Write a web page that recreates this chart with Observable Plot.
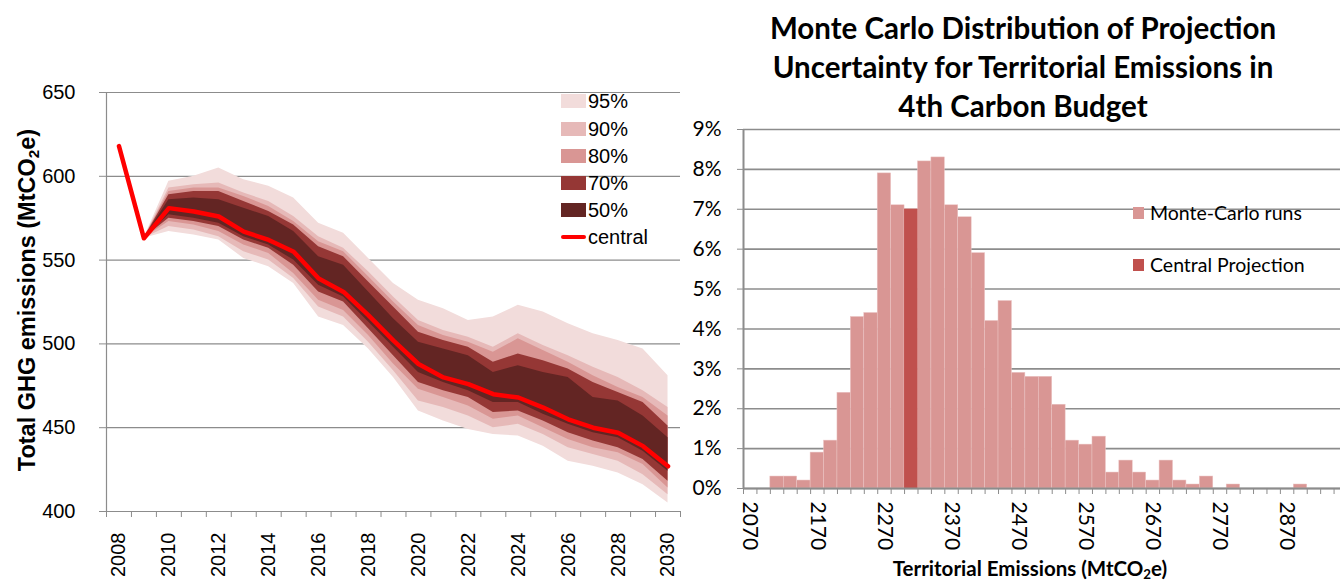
<!DOCTYPE html>
<html><head><meta charset="utf-8">
<script src="https://cdn.jsdelivr.net/npm/d3@7"></script>
<script src="https://cdn.jsdelivr.net/npm/@observablehq/plot@0.6"></script>
<style>
html,body{margin:0;padding:0;background:#fff;width:1340px;height:581px;overflow:hidden;}
#wrap{position:relative;width:1340px;height:581px;overflow:hidden;}
.abs{position:absolute;}
#leftPlot{left:0;top:0;}
#rightPlot{left:690px;top:0;}
.ltxt{font-family:"Liberation Sans",Arial,sans-serif;font-size:20px;color:#000;}
.rtxt{font-family:Lato,"Open Sans",sans-serif;color:#000;}
.title{left:693px;width:660px;top:8px;text-align:center;font-family:Lato,sans-serif;font-weight:bold;font-size:29.5px;line-height:39px;}
.ylab{font-family:"Liberation Sans",Arial,sans-serif;font-weight:bold;font-size:23.5px;white-space:nowrap;transform:rotate(-90deg);transform-origin:center center;}
sub{font-size:0.65em;vertical-align:-0.25em;line-height:0;}
</style></head><body><div id="wrap"></div>
<script>
// ---------- Left: fan chart ----------
const years = [2008,2009,2010,2011,2012,2013,2014,2015,2016,2017,2018,2019,2020,2021,2022,2023,2024,2025,2026,2027,2028,2029,2030];
const central = [618,563,581,579,576,567,562,555,539,531,517,502,488,480,476,470,468,462,455,450,447,439,427];
const bandYears = [2009,2010,2011,2012,2013,2014,2015,2016,2017,2018,2019,2020,2021,2022,2023,2024,2025,2026,2027,2028,2029,2030];
const p95hi = [563,597,600,605,598,594,587,572,566,551,536,526,521,514,516,523,519,512,506,502,497,481];
const p90hi = [563,593,595,596,590,585,576,564,557,543,528,514,508,504,498,506,499,493,486,480,472,462];
const p80hi = [563,591,593,593,588,582,573,561,555,540,525,511,505,501,495,503,496,489,481,474,468,457];
const p70hi = [563,589,591,591,585,579,571,558,552,537,522,507,502,498,489,494,490,485,477,471,465,451];
const p50hi = [563,586,587,586,581,576,567,552,547,531,515,501,497,493,483,487,483,480,468,466,457,444];
const p50lo = [563,577,575,572,564,559,550,535,528,513,498,483,477,472,465,465,458,452,447,444,436,424];
const p70lo = [563,575,573,570,562,557,547,531,525,509,493,477,472,468,459,460,454,447,442,438,431,418];
const p80lo = [563,573,571,567,559,554,542,526,520,505,488,473,468,463,455,457,450,443,438,435,428,414];
const p90lo = [563,570,568,564,555,550,539,522,516,501,484,466,462,457,450,452,446,438,434,430,422,410];
const p95lo = [563,567,565,562,551,546,536,516,511,497,480,460,454,449,446,445,439,430,427,423,416,405];
const bandNames = ["95%","90%","80%","70%","50%"];
const bandColors = ["#F2DCDB","#E6B9B8","#D99694","#953735","#632523"];
const centralColor = "#FF0000";
const yTicksL = [400,450,500,550,600,650];
const yearLabels = [2008,2010,2012,2014,2016,2018,2020,2022,2024,2026,2028,2030];
const yearEdges = [2007.5,2008.5,2009.5,2010.5,2011.5,2012.5,2013.5,2014.5,2015.5,2016.5,2017.5,2018.5,2019.5,2020.5,2021.5,2022.5,2023.5,2024.5,2025.5,2026.5,2027.5,2028.5,2029.5,2030.5];

// ---------- Right: histogram ----------
const bins = [2070,2090,2110,2130,2150,2170,2190,2210,2230,2250,2270,2290,2310,2330,2350,2370,2390,2410,2430,2450,2470,2490,2510,2530,2550,2570,2590,2610,2630,2650,2670,2690,2710,2730,2750,2770,2790,2810,2830,2850,2870,2890,2910,2930,2950];
const mcPct = [0,0,0.3,0.3,0.2,0.9,1.2,2.4,4.3,4.4,7.9,7.1,7.0,8.2,8.3,7.1,6.8,5.9,4.2,4.7,2.9,2.8,2.8,2.1,1.2,1.1,1.3,0.4,0.7,0.4,0.2,0.7,0.2,0.1,0.3,0,0.1,0,0,0,0,0.1,0,0,0];
const centralBin = [2310];
const centralPct = [7.0];
const binWidth = 20;
const binLabels = [2070,2170,2270,2370,2470,2570,2670,2770,2870];
const pctTicks = [0,1,2,3,4,5,6,7,8,9];
const mcColor = "#D99694", cpColor = "#C0504D";
const gridColor = "#8c8c8c";

const bandRows = bandYears.map((yr,i)=>({year:yr, hi:[p95hi[i],p90hi[i],p80hi[i],p70hi[i],p50hi[i]], lo:[p95lo[i],p90lo[i],p80lo[i],p70lo[i],p50lo[i]]}));
const centralRows = years.map((yr,i)=>({year:yr, v:central[i]}));

const bandMarks = bandNames.map((n,k)=>Plot.areaY(bandRows,{x:"year", y1:d=>d.lo[k], y2:d=>d.hi[k], fill:bandColors[k], curve:"linear"}));

const left = Plot.plot({
  width: 690, height: 581,
  marginLeft: 106, marginRight: 10, marginTop: 92, marginBottom: 70,
  style: {fontFamily: '"Liberation Sans", Arial, sans-serif', fontSize: "20px", color: "#000", background: "transparent", overflow: "visible"},
  x: {type: "linear", domain: [2007.5, 2030.5], axis: null, label: null},
  y: {domain: [400, 650], axis: null, label: null},
  marks: [
    Plot.gridY(yTicksL, {stroke: gridColor, strokeOpacity: 1, strokeWidth: 1.2}),
    ...bandMarks,
    Plot.line(centralRows, {x:"year", y:"v", stroke: centralColor, strokeWidth: 4.5, strokeLinejoin:"round"}),
    Plot.ruleX([2007.5], {stroke: gridColor, strokeWidth: 1.2}),
    Plot.ruleY([400], {stroke: gridColor, strokeWidth: 1.2}),
    Plot.axisY({ticks: yTicksL, tickSize: 7, tickPadding: 24, stroke: gridColor, fontSize: 20, label: null, tickFormat: d => String(d)}),
    Plot.axisX({ticks: yearEdges, tickSize: 6, stroke: gridColor, label: null, tickFormat: () => ""}),
    Plot.axisX({ticks: yearLabels, tickSize: 0, tickRotate: -90, tickPadding: 21, fontSize: 20, label: null, tickFormat: d => String(d)})
  ]
});
left.classList.add("abs"); left.id = "leftPlot";

const histRows = bins.map((b,i)=>({bin:b, pct:mcPct[i]})).filter(d=>d.pct>0);
const cpRows = centralBin.map((b,i)=>({bin:b, pct:centralPct[i]}));

const right = Plot.plot({
  width: 657, height: 581,
  marginLeft: 53, marginRight: 0, marginTop: 129, marginBottom: 93,
  style: {fontFamily: 'Lato, "Open Sans", sans-serif', fontSize: "21px", color: "#000", background: "transparent", overflow: "visible"},
  x: {type: "linear", domain: [2060, 2960], axis: null, label: null},
  y: {domain: [0, 9], axis: null, label: null},
  marks: [
    Plot.gridY(pctTicks, {stroke: gridColor, strokeOpacity: 1, strokeWidth: 1.6}),
    Plot.rectY(histRows, {x1: d=>d.bin-binWidth/2, x2: d=>d.bin+binWidth/2, y: "pct", fill: mcColor, stroke:"#EBC4C3", strokeWidth:0.5}),
    Plot.rectY(cpRows, {x1: d=>d.bin-binWidth/2, x2: d=>d.bin+binWidth/2, y: "pct", fill: cpColor}),
    Plot.ruleX([2060], {stroke: gridColor, strokeWidth: 2}),
    Plot.ruleY([0], {stroke: gridColor, strokeWidth: 2}),
    Plot.axisY({ticks: pctTicks, tickSize: 6, tickPadding: 16, stroke: gridColor, fontSize: 21, label: null, tickFormat: d => d + "%"}),
    Plot.axisX({ticks: bins.map(b=>b-binWidth/2), tickSize: 6, stroke: gridColor, label: null, tickFormat: () => ""}),
    Plot.axisX({ticks: binLabels, tickSize: 0, tickRotate: 90, tickPadding: 13, fontSize: 21, label: null, tickFormat: d => String(d)})
  ]
});
right.classList.add("abs"); right.id = "rightPlot";

const wrap = document.getElementById("wrap");
wrap.appendChild(left);
wrap.appendChild(right);

// Left legend
let html = "";
const legTop = [101,129,156,183,210];
bandNames.forEach((n,k)=>{
  html += `<div class="abs" style="left:561px;top:${legTop[k]-7}px;width:25px;height:14px;background:${bandColors[k]}"></div>`;
  html += `<div class="abs ltxt" style="left:588px;top:${legTop[k]-12}px;line-height:24px;">${n}</div>`;
});
html += `<div class="abs" style="left:561px;top:235px;width:25px;height:4px;background:${centralColor};border-radius:2px"></div>`;
html += `<div class="abs ltxt" style="left:588px;top:225px;line-height:24px;">central</div>`;
// Left y label
html += `<div class="abs ylab" style="left:-153px;top:287px;width:360px;text-align:center;line-height:26px;">Total GHG emissions (MtCO<sub>2</sub>e)</div>`;
// Right title
html += `<div class="abs title">Monte Carlo Distribution of Projection<br>Uncertainty for Territorial Emissions in<br>4th Carbon Budget</div>`;
// Right legend
html += `<div class="abs" style="left:1133px;top:207px;width:11px;height:12px;background:${mcColor}"></div>`;
html += `<div class="abs rtxt" style="left:1150px;top:200px;font-size:19.5px;line-height:26px;">Monte-Carlo runs</div>`;
html += `<div class="abs" style="left:1133px;top:259px;width:11px;height:12px;background:${cpColor}"></div>`;
html += `<div class="abs rtxt" style="left:1150px;top:252px;font-size:19.5px;line-height:26px;">Central Projection</div>`;
// Right x title
html += `<div class="abs rtxt" style="left:730px;width:600px;top:557px;text-align:center;font-weight:bold;font-size:20.5px;line-height:22px;">Territorial Emissions (MtCO<sub>2</sub>e)</div>`;
wrap.insertAdjacentHTML("beforeend", html);
</script></body></html>
